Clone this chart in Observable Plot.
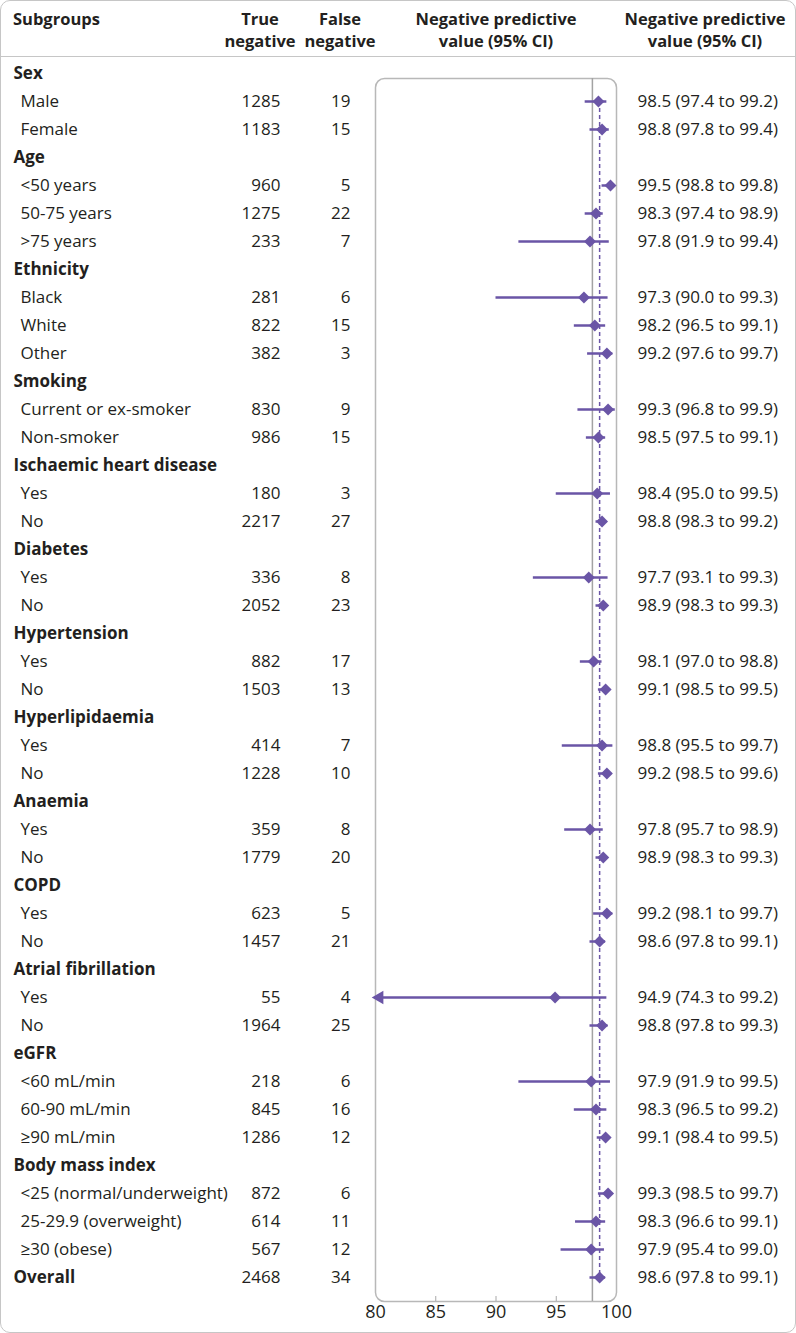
<!DOCTYPE html>
<html>
<head>
<meta charset="utf-8">
<script src="https://cdn.jsdelivr.net/npm/d3@7"></script>
<script src="https://cdn.jsdelivr.net/npm/@observablehq/plot@0.6"></script>
<style>
  html, body { margin: 0; padding: 0; background: #fff; }
  body { font-family: "Open Sans", sans-serif; color: #231f20; }
  #wrap { position: relative; width: 796px; height: 1333px; overflow: hidden; }
  #border { position: absolute; left: 0; top: 0; width: 796px; height: 1333px; box-sizing: border-box;
            border: 1.5px solid #c6c6c6; border-radius: 10px; pointer-events: none; }
  #head { position: absolute; left: 0; top: 0; width: 796px; height: 57px; box-sizing: border-box;
          border-bottom: 1.5px solid #c6c6c6; }
  .h { position: absolute; top: 8px; font-weight: 700; font-size: 16.5px; line-height: 22px; text-align: center; white-space: nowrap; }
  #chart { position: absolute; left: 0; top: 0; }
</style>
</head>
<body>
<div id="wrap">
  <div id="head">
    <div class="h" style="left:13px;text-align:left">Subgroups</div>
    <div class="h" style="left:220px;width:80px">True<br>negative</div>
    <div class="h" style="left:300px;width:80px">False<br>negative</div>
    <div class="h" style="left:406px;width:180px">Negative predictive<br>value (95% CI)</div>
    <div class="h" style="left:615px;width:180px">Negative predictive<br>value (95% CI)</div>
  </div>
  <div id="chart"></div>
  <div id="border"></div>
</div>
<script>
const labels = ["Sex","Male","Female","Age","<50 years","50-75 years",">75 years","Ethnicity","Black","White","Other",
  "Smoking","Current or ex-smoker","Non-smoker","Ischaemic heart disease","Yes","No","Diabetes","Yes","No",
  "Hypertension","Yes","No","Hyperlipidaemia","Yes","No","Anaemia","Yes","No","COPD","Yes","No",
  "Atrial fibrillation","Yes","No","eGFR","<60 mL/min","60-90 mL/min","≥90 mL/min","Body mass index",
  "<25 (normal/underweight)","25-29.9 (overweight)","≥30 (obese)","Overall"];
const trueNegative = [null,1285,1183,null,960,1275,233,null,281,822,382,null,830,986,null,180,2217,null,336,2052,
  null,882,1503,null,414,1228,null,359,1779,null,623,1457,null,55,1964,null,218,845,1286,null,872,614,567,2468];
const falseNegative = [null,19,15,null,5,22,7,null,6,15,3,null,9,15,null,3,27,null,8,23,
  null,17,13,null,7,10,null,8,20,null,5,21,null,4,25,null,6,16,12,null,6,11,12,34];
const npv = [null,98.5,98.8,null,99.5,98.3,97.8,null,97.3,98.2,99.2,null,99.3,98.5,null,98.4,98.8,null,97.7,98.9,
  null,98.1,99.1,null,98.8,99.2,null,97.8,98.9,null,99.2,98.6,null,94.9,98.8,null,97.9,98.3,99.1,null,99.3,98.3,97.9,98.6];
const ciLow = [null,97.4,97.8,null,98.8,97.4,91.9,null,90.0,96.5,97.6,null,96.8,97.5,null,95.0,98.3,null,93.1,98.3,
  null,97.0,98.5,null,95.5,98.5,null,95.7,98.3,null,98.1,97.8,null,74.3,97.8,null,91.9,96.5,98.4,null,98.5,96.6,95.4,97.8];
const ciHigh = [null,99.2,99.4,null,99.8,98.9,99.4,null,99.3,99.1,99.7,null,99.9,99.1,null,99.5,99.2,null,99.3,99.3,
  null,98.8,99.5,null,99.7,99.6,null,98.9,99.3,null,99.7,99.1,null,99.2,99.3,null,99.5,99.2,99.5,null,99.7,99.1,99.0,99.1];
const xTicks = [80, 85, 90, 95, 100];
const referenceValue = 98;

const rows = labels.map((label, i) => ({
  i, label,
  tn: trueNegative[i], fn: falseNegative[i],
  npv: npv[i], lo: ciLow[i], hi: ciHigh[i],
  heading: trueNegative[i] == null || label === "Overall"
}));
const est = rows.filter(d => d.npv != null);
const overall = rows[rows.length - 1];
const xMin = xTicks[0], xMax = xTicks[xTicks.length - 1];
const purple = "#6a55a6";
const ink = "#231f20";
const fs = 17;

const plot = Plot.plot({
  width: 796, height: 1333,
  marginLeft: 375, marginRight: 180, marginTop: 78, marginBottom: 32,
  style: { fontFamily: "Open Sans, sans-serif", fontSize: fs + "px", color: ink, background: "transparent" },
  x: { domain: [xMin, xMax], clamp: true },
  y: { domain: [0, rows.length - 1], range: [73, 1277], axis: null },
  marks: [
    Plot.frame({ stroke: "#b8b8b8", strokeWidth: 1.5, rx: 9 }),
    Plot.ruleX([referenceValue], { stroke: "#a3a3a3", strokeWidth: 1.5 }),
    Plot.ruleX([overall], { x: "npv", y1: est[0].i, y2: overall.i, stroke: purple, strokeWidth: 1.5, strokeDasharray: "4,3" }),
    Plot.ruleY(est, { y: "i", x1: "lo", x2: "hi", stroke: purple, strokeWidth: 2.5 }),
    Plot.dot(est.filter(d => d.lo < xMin), { x: () => xMin, y: "i", symbol: "triangle", rotate: -90, r: 5, dx: 4, fill: purple, stroke: null }),
    Plot.dot(est, { x: "npv", y: "i", symbol: "diamond2", r: 5.4, fill: purple, stroke: null }),
    Plot.axisX({ ticks: xTicks, tickSize: 0, tickPadding: 4, tickFormat: d3.format("d"), fontSize: 18, fill: ink, label: null }),
    Plot.axisX({ ticks: xTicks.slice(1, -1), tickSize: -5, tickFormat: () => "", stroke: "#a8a8a8", label: null }),
    Plot.text(rows.filter(d => d.heading), { y: "i", text: "label", frameAnchor: "left", textAnchor: "start",
      dx: -362, fontWeight: "bold", fill: ink, fontSize: fs }),
    Plot.text(rows.filter(d => !d.heading), { y: "i", text: "label", frameAnchor: "left", textAnchor: "start",
      dx: -355, fill: ink, fontSize: fs }),
    Plot.text(est, { y: "i", text: d => String(d.tn), frameAnchor: "left", textAnchor: "end", dx: -95, fill: ink, fontSize: fs }),
    Plot.text(est, { y: "i", text: d => String(d.fn), frameAnchor: "left", textAnchor: "end", dx: -25, fill: ink, fontSize: fs }),
    Plot.text(est, { y: "i", text: d => `${d.npv.toFixed(1)} (${d.lo.toFixed(1)} to ${d.hi.toFixed(1)})`,
      frameAnchor: "right", textAnchor: "start", dx: 21, fill: ink, fontSize: fs })
  ]
});
document.getElementById("chart").appendChild(plot);
</script>
</body>
</html>
